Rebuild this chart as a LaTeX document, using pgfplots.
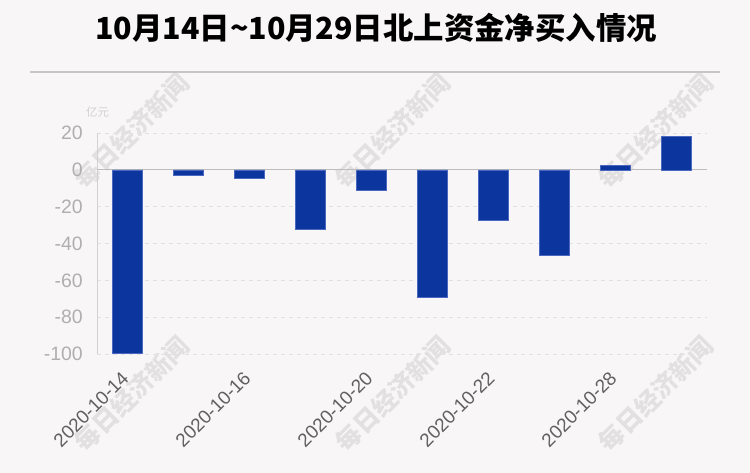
\documentclass[border=0pt]{standalone}
\usepackage{fontspec}
\setmainfont{Liberation Sans}
\newfontfamily\cjk{Noto Sans CJK SC}
\usepackage{pgfplots}
\pgfplotsset{compat=1.18}
\definecolor{bg}{HTML}{F9F6F7}
\definecolor{barc}{HTML}{0D359E}
\definecolor{baredge}{HTML}{4A68C0}
\definecolor{ylab}{HTML}{AFAFAF}
\definecolor{xlab}{HTML}{606060}
\definecolor{wm}{HTML}{E3E0E1}
\definecolor{gridc}{HTML}{E2E0E1}
\definecolor{zeroc}{HTML}{BDBDBD}
\definecolor{axc}{HTML}{D2D2D2}
\definecolor{linec}{HTML}{C6C6C6}
\begin{document}
\begin{tikzpicture}
\fill[bg] (0bp,0bp) rectangle (750bp,473bp);
% watermarks
\foreach \cx/\cy in {132/342,393/342,656/342,132/79,393/79,656/79}{
  \node[rotate=45, text=wm, inner sep=0pt, font=\cjk\bfseries\fontsize{25pt}{26pt}\selectfont] at (\cx bp,\cy bp) {每日经济新闻};
}
% title
\node[inner sep=0pt, font=\cjk\bfseries\fontsize{30.5pt}{31pt}\selectfont] at (376bp,445bp) {10月14日\textasciitilde10月29日北上资金净买入情况};
\draw[linec, line width=2bp] (30bp,401.3bp) -- (720bp,401.3bp);
% unit label
\node[inner sep=0pt, text=axc, font=\cjk\fontsize{11.5pt}{12pt}\selectfont] at (97.5bp,361bp) {亿元};
\begin{axis}[
  at={(97bp,119bp)}, anchor=south west,
  scale only axis, width=610bp, height=221bp,
  xmin=-0.5, xmax=9.5, ymin=-100, ymax=20,
  enlargelimits=false,
  ybar, bar width=30bp,
  axis y line*=left, axis x line*=bottom,
  x axis line style={draw=none},
  y axis line style={draw=axc, line width=0.8bp},
  major tick length=0pt,
  ytick={-100,-80,-60,-40,-20,0,20},
  yticklabels={-100,-80,-60,-40,-20,0,20},
  yticklabel style={text=ylab, inner sep=0pt, xshift=-14bp, font=\fontsize{19.5pt}{20pt}\selectfont},
  xtick={0,2,4,6,8},
  xticklabels={2020-10-14,2020-10-16,2020-10-20,2020-10-22,2020-10-28},
  xticklabel style={xshift=-7bp, yshift=-16bp, rotate=45, anchor=north east, inner sep=0pt, text=xlab, font=\fontsize{19pt}{20pt}\selectfont},
  ymajorgrids,
  grid style={gridc, dash pattern=on 4bp off 4bp, line width=0.8bp},
  extra y ticks={0}, extra y tick labels={},
  extra y tick style={grid style={zeroc, solid, line width=1.2bp}},
  clip=false,
]
\addplot[fill=barc, draw=baredge, line width=0.6bp] coordinates {
  (0,-99.8) (1,-3.1) (2,-4.7) (3,-32.2) (4,-10.9)
  (5,-69.2) (6,-27.4) (7,-46.2) (8,2.2) (9,18.1)
};
\end{axis}
\end{tikzpicture}
\end{document}
